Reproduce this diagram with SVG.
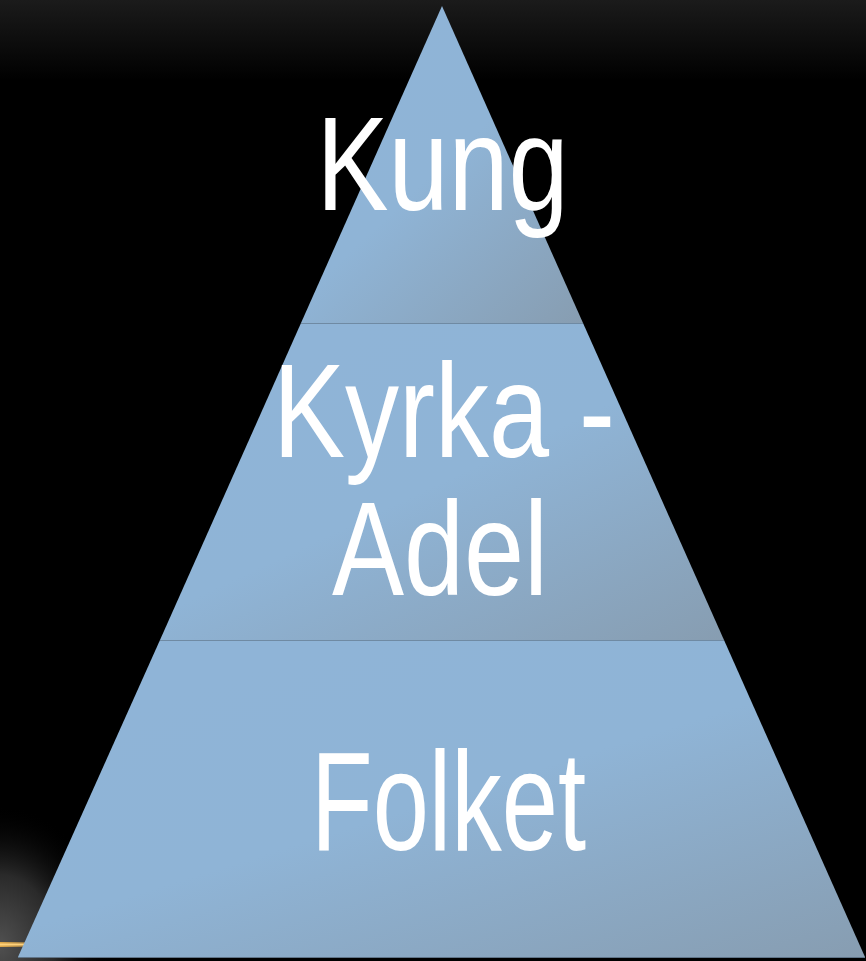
<svg xmlns="http://www.w3.org/2000/svg" width="866" height="961" viewBox="0 0 866 961">
<defs>
<linearGradient id="bgTop" x1="0" y1="0" x2="0" y2="1">
<stop offset="0" stop-color="#1b1b1b"/>
<stop offset="1" stop-color="#000000"/>
</linearGradient>
<radialGradient id="glow" cx="0" cy="945" r="1" gradientUnits="userSpaceOnUse" gradientTransform="translate(0 945) scale(110 140) translate(0 -945)">
<stop offset="0" stop-color="#505050"/>
<stop offset="0.5" stop-color="#2a2a2a"/>
<stop offset="1" stop-color="#000000" stop-opacity="0"/>
</radialGradient>
<linearGradient id="orange" x1="0" y1="0" x2="1" y2="0">
<stop offset="0" stop-color="#f3b54a"/>
<stop offset="1" stop-color="#f3b54a" stop-opacity="0.4"/>
</linearGradient>
<linearGradient id="tier" x1="0.25" y1="0.1" x2="1" y2="1">
<stop offset="0" stop-color="#8fb4d7"/>
<stop offset="0.4" stop-color="#8fb4d6"/>
<stop offset="1" stop-color="#879db1"/>
</linearGradient>
<style>
.t{fill:#ffffff;font-family:"Liberation Sans",Arial,sans-serif;font-size:108px;text-anchor:middle}
.div{stroke:#6f8aa3;stroke-width:1}
</style>
</defs>
<rect width="866" height="961" fill="#000"/>
<rect width="866" height="80" fill="url(#bgTop)"/>
<rect x="0" y="805" width="130" height="156" fill="url(#glow)"/>
<rect x="0" y="942" width="30" height="5" fill="url(#orange)" opacity="0.9"/>
<rect x="0" y="943.5" width="28" height="2" fill="#ffd27a"/>
<g id="tier-top">
<polygon points="442,6 583,323 301,323" fill="url(#tier)"/>
<text class="t" transform="translate(442.5 210) scale(1 1.23)">Kung</text>
</g>
<g id="tier-middle">
<polygon points="301,323 583,323 724,640 160,640" fill="url(#tier)"/>
<text class="t" transform="translate(444 457) scale(1 1.23)">Kyrka -</text>
<text class="t" transform="translate(440 595) scale(1 1.23)">Adel</text>
</g>
<g id="tier-bottom">
<polygon points="160,640 724,640 865,957 18,957" fill="url(#tier)"/>
<text class="t" style="font-size:101px" transform="translate(448.5 850) scale(1 1.39)">Folket</text>
</g>
<g id="connectors">
<line class="div" x1="301" y1="323.5" x2="583" y2="323.5"/>
<line class="div" x1="160" y1="640.5" x2="724" y2="640.5"/>
<line x1="18" y1="957.5" x2="865" y2="957.5" stroke="#5f7488" stroke-width="1"/>
</g>
</svg>
